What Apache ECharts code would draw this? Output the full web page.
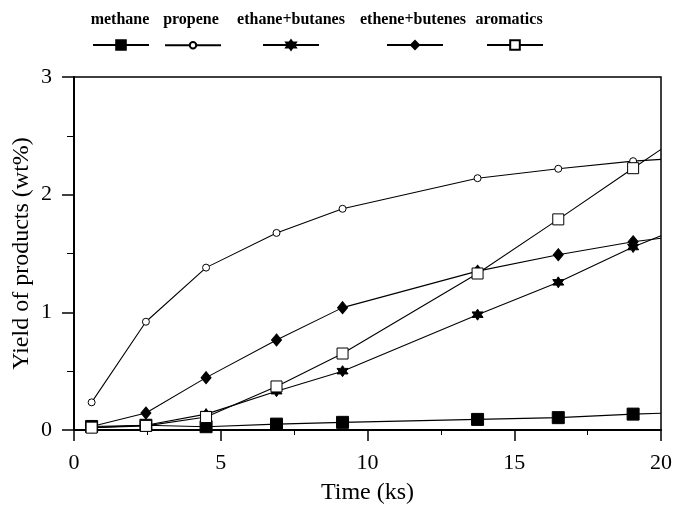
<!DOCTYPE html>
<html>
<head>
<meta charset="utf-8">
<script src="https://cdn.jsdelivr.net/npm/echarts@6/dist/echarts.min.js"></script>
<style>html,body{margin:0;padding:0;background:#fff}#c{width:674px;height:506px}</style>
</head>
<body>
<div id="c"></div>
<script>
// Time values (ks)
const times = [0.6, 2.45, 4.5, 6.9, 9.15, 13.75, 16.5, 19.05];
const lineEndX = 20;
// Yields (wt%)
const methane = [0.03, 0.04, 0.028, 0.05, 0.065, 0.09, 0.105, 0.135];
const propene = [0.235, 0.92, 1.38, 1.675, 1.88, 2.14, 2.22, 2.285];
const ethaneButanes = [0.02, 0.04, 0.135, 0.33, 0.50, 0.98, 1.255, 1.555];
const etheneButenes = [0.03, 0.145, 0.445, 0.765, 1.04, 1.35, 1.49, 1.60];
const aromatics = [0.02, 0.035, 0.11, 0.37, 0.65, 1.33, 1.79, 2.225];
// values where each line meets the right frame (x = 20)
const lineEnds = {methane: 0.142, propene: 2.30, ethaneButanes: 1.65, etheneButenes: 1.63, aromatics: 2.385};
const names = ['methane', 'propene', 'ethane+butanes', 'ethene+butenes', 'aromatics'];
const xTicks = [0, 5, 10, 15, 20];
const yTicks = [0, 1, 2, 3];

const star6 = 'path://M0,-10 L2.89,-5 L8.66,-5 L5.77,0 L8.66,5 L2.89,5 L0,10 L-2.89,5 L-8.66,5 L-5.77,0 L-8.66,-5 L-2.89,-5 Z';

function build(vals, endVal) {
  const d = times.map((t, i) => [t, vals[i]]);
  d.push({value: [lineEndX, endVal], symbol: 'none'});
  return d;
}

const serif = '"Liberation Serif", "Times New Roman", serif';
const specs = [
  {name: names[0], vals: methane, end: lineEnds.methane, symbol: 'rect', size: 12, fill: '#000'},
  {name: names[1], vals: propene, end: lineEnds.propene, symbol: 'circle', size: 7, fill: '#fff'},
  {name: names[2], vals: ethaneButanes, end: lineEnds.ethaneButanes, symbol: star6, size: 11, fill: '#000'},
  {name: names[3], vals: etheneButenes, end: lineEnds.etheneButenes, symbol: 'diamond', size: [10, 12], fill: '#000'},
  {name: names[4], vals: aromatics, end: lineEnds.aromatics, symbol: 'rect', size: 11, fill: '#fff'}
];

const series = specs.map(s => ({
  name: s.name,
  type: 'line',
  data: build(s.vals, s.end),
  symbol: s.symbol,
  symbolSize: s.size,
  showAllSymbol: true,
  lineStyle: {color: '#000', width: 1.1},
  itemStyle: {color: s.fill, borderColor: '#000', borderWidth: 1},
  emphasis: {disabled: true},
  animation: false,
  z: 3
}));

// legend positions (icon left edges) and label centers
const legendLeft = [92, 164, 262, 386, 486];
const labelCenter = [120, 191, 291, 413, 509];
const legendIconH = [12, 8, 12, 10, 12];

const legends = names.map((n, i) => ({
  data: [n],
  left: legendLeft[i],
  top: 45 - legendIconH[i] / 2,
  itemWidth: 56,
  itemHeight: legendIconH[i],
  itemGap: 0,
  padding: 0,
  formatter: () => '',
  textStyle: {fontSize: 1},
  selectedMode: false,
  lineStyle: {width: 2}
}));

const graphics = names.map((n, i) => ({
  type: 'text',
  style: {
    text: n,
    x: labelCenter[i],
    y: 20,
    align: 'center',
    verticalAlign: 'middle',
    font: 'bold 16px ' + serif,
    fill: '#000'
  }
}));

const chart = echarts.init(document.getElementById('c'), null, {renderer: 'canvas'});
chart.setOption({
  backgroundColor: '#fff',
  animation: false,
  legend: legends,
  graphic: graphics,
  grid: {left: 74, right: 13, top: 77, bottom: 76, outerBoundsMode: 'none', containLabel: false,
    show: true, borderColor: '#000', borderWidth: 1.5},
  xAxis: {
    type: 'value', min: 0, max: 20, interval: 5,
    name: 'Time (ks)', nameLocation: 'middle', nameGap: 51, nameMoveOverlap: false,
    nameTextStyle: {fontFamily: serif, fontSize: 24, color: '#000'},
    axisLine: {lineStyle: {color: '#000', width: 2}},
    axisTick: {show: true, inside: false, length: 11, lineStyle: {color: '#000', width: 1.5}},
    minorTick: {show: true, splitNumber: 2, length: 5, lineStyle: {color: '#000', width: 1}},
    splitLine: {show: false},
    axisLabel: {fontFamily: serif, fontSize: 22, color: '#000', margin: 22,
      formatter: v => xTicks.includes(v) ? String(v) : ''}
  },
  yAxis: {
    type: 'value', min: 0, max: 3, interval: 1,
    name: 'Yield of products (wt%)', nameLocation: 'middle', nameGap: 40, nameMoveOverlap: false,
    nameTextStyle: {fontFamily: serif, fontSize: 24, color: '#000'},
    axisLine: {lineStyle: {color: '#000', width: 2}},
    axisTick: {show: true, inside: false, length: 12, lineStyle: {color: '#000', width: 1.5}},
    minorTick: {show: true, splitNumber: 2, length: 7, lineStyle: {color: '#000', width: 1}},
    splitLine: {show: false},
    axisLabel: {fontFamily: serif, fontSize: 22, color: '#000', margin: 22,
      formatter: v => yTicks.includes(v) ? String(v) : ''}
  },
  series: series
});
</script>
</body>
</html>
